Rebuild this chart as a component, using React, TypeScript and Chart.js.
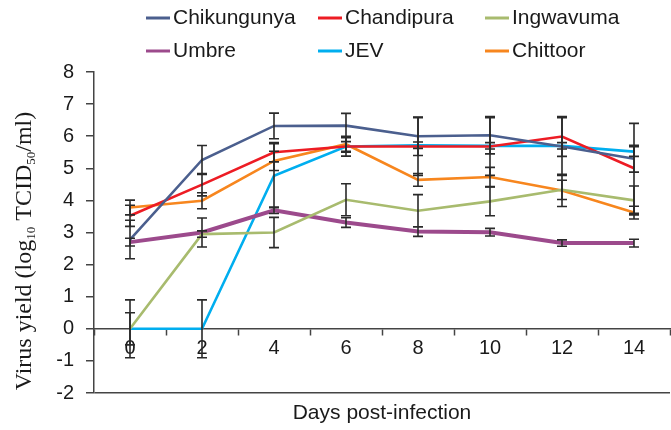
import React, { useEffect, useRef } from 'react';
import { Chart, registerables } from 'chart.js';
Chart.register(...registerables);

const days = ['0', '2', '4', '6', '8', '10', '12', '14'];
const seriesNames = ['Chikungunya', 'Chandipura', 'Ingwavuma', 'Umbre', 'JEV', 'Chittoor'];
const seriesColors = ['#4B5F8E', '#ED1C24', '#A8BB6E', '#9C4A8C', '#00AEEF', '#F7861E'];
const seriesWidths = [2.6, 2.6, 2.6, 4, 2.6, 2.6];

const chikungunya = [2.78, 5.26, 6.32, 6.33, 6.0, 6.03, 5.68, 5.3];
const chandipura = [3.52, 4.49, 5.5, 5.68, 5.68, 5.68, 5.99, 5.0];
const ingwavuma = [0, 2.95, 3.0, 4.02, 3.68, 3.97, 4.33, 4.0];
const umbre = [2.7, 3.0, 3.69, 3.31, 3.03, 3.01, 2.67, 2.67];
const jev = [0, 0, 4.77, 5.68, 5.72, 5.7, 5.7, 5.52];
const chittoor = [3.78, 3.99, 5.23, 5.75, 4.64, 4.73, 4.31, 3.62];

const chikungunyaErr = [0.6, 0.45, 0.4, 0.38, 0.6, 0.58, 0.9, 0.42];
const chandipuraErr = [0.33, 0.35, 0.3, 0.3, 0.9, 0.9, 0.62, 1.4];
const ingwavumaErr = [0.9, 0.1, 0.47, 0.5, 0.5, 0.45, 0.3, 0.45];
const umbreErr = [0.12, 0.45, 0.1, 0.15, 0.15, 0.12, 0.1, 0.12];
const jevErr = [0.5, 0.9, 1.0, 0.15, 0.1, 0.1, 0.1, 0.15];
const chittoorErr = [0.23, 0.25, 0.3, 0.25, 0.2, 0.3, 0.5, 0.2];

const yTickMin = -2;
const yTickMax = 8;

const seriesValues = [chikungunya, chandipura, ingwavuma, umbre, jev, chittoor];
const seriesErrors = [chikungunyaErr, chandipuraErr, ingwavumaErr, umbreErr, jevErr, chittoorErr];

const SANS = '"Liberation Sans", Arial, sans-serif';
const SERIF = '"Liberation Serif", "Times New Roman", serif';

const errorBarPlugin = {
  id: 'errorBars',
  afterDatasetsDraw(chart: any) {
    const ctx = chart.ctx;
    const xs = chart.scales.x;
    const ys = chart.scales.y;
    ctx.save();
    ctx.strokeStyle = '#2a2a2a';
    ctx.lineWidth = 1.6;
    seriesValues.forEach((vals, i) => {
      const errs = seriesErrors[i];
      vals.forEach((v, j) => {
        const e = errs[j];
        const x = xs.getPixelForValue(j);
        const yt = ys.getPixelForValue(v + e);
        const yb = ys.getPixelForValue(v - e);
        ctx.beginPath();
        ctx.moveTo(x, yt);
        ctx.lineTo(x, yb);
        ctx.moveTo(x - 5, yt);
        ctx.lineTo(x + 5, yt);
        ctx.moveTo(x - 5, yb);
        ctx.lineTo(x + 5, yb);
        ctx.stroke();
      });
    });
    ctx.restore();
  },
};

const decorPlugin = {
  id: 'decor',
  afterDraw(chart: any) {
    const ctx = chart.ctx;
    const area = chart.chartArea;
    ctx.save();
    // legend
    const cols = [146, 318, 485];
    const rows = [18, 51];
    ctx.font = '21px ' + SANS;
    ctx.textBaseline = 'middle';
    ctx.textAlign = 'left';
    seriesNames.forEach((name, i) => {
      const cx = cols[i % 3];
      const cy = rows[Math.floor(i / 3)];
      ctx.strokeStyle = seriesColors[i];
      ctx.lineWidth = 3;
      ctx.beginPath();
      ctx.moveTo(cx, cy);
      ctx.lineTo(cx + 24, cy);
      ctx.stroke();
      ctx.fillStyle = '#1a1a1a';
      ctx.fillText(name, cx + 27, cy);
    });
    // x title
    ctx.textAlign = 'center';
    ctx.font = '21px ' + SANS;
    ctx.fillText('Days post-infection', (area.left + area.right) / 2, area.bottom + 20);
    // y title with subscripts
    const parts: [string, boolean][] = [
      ['Virus yield (log', false],
      ['10', true],
      [' TCID', false],
      ['50', true],
      ['/ml)', false],
    ];
    const mainFont = '24px ' + SERIF;
    const subFont = '13px ' + SERIF;
    let total = 0;
    parts.forEach(([t, s]) => {
      ctx.font = s ? subFont : mainFont;
      total += ctx.measureText(t).width;
    });
    ctx.translate(25, 251);
    ctx.rotate(-Math.PI / 2);
    ctx.textAlign = 'left';
    ctx.textBaseline = 'middle';
    let px = -total / 2;
    parts.forEach(([t, s]) => {
      ctx.font = s ? subFont : mainFont;
      ctx.fillText(t, px, s ? 7 : 0);
      px += ctx.measureText(t).width;
    });
    ctx.restore();
  },
};

export default function App() {
  const ref = useRef<HTMLCanvasElement | null>(null);
  useEffect(() => {
    document.body.style.margin = '0';
    const canvas = ref.current;
    if (!canvas) return;
    const chart = new Chart(canvas, {
      type: 'line',
      data: {
        labels: days,
        datasets: seriesNames.map((name, i) => ({
          label: name,
          data: seriesValues[i],
          borderColor: seriesColors[i],
          backgroundColor: seriesColors[i],
          borderWidth: seriesWidths[i],
          pointRadius: 0,
          tension: 0,
          fill: false,
        })),
      },
      options: {
        responsive: false,
        animation: false,
        devicePixelRatio: 1,
        layout: { padding: { top: 72, bottom: 37, left: 0, right: 1 } },
        plugins: {
          legend: { display: false },
          tooltip: { enabled: false },
        },
        scales: {
          x: {
            type: 'category',
            offset: true,
            position: { y: 0 } as any,
            grid: {
              offset: true,
              drawOnChartArea: false,
              drawTicks: true,
              tickLength: 6,
              tickColor: '#444',
              tickWidth: 1.5,
            },
            border: { display: true, color: '#444', width: 1.5 },
            ticks: {
              color: '#1a1a1a',
              font: { family: SANS, size: 20 },
              padding: 2,
              maxRotation: 0,
            },
          },
          y: {
            min: yTickMin,
            max: yTickMax,
            afterFit(scale: any) {
              scale.width = 94;
            },
            grid: {
              drawOnChartArea: true,
              drawTicks: true,
              tickLength: 8,
              tickColor: '#444',
              tickWidth: 1.5,
              lineWidth: 1.5,
              color: (c: any) => (c.tick && c.tick.value === yTickMin ? '#444' : 'rgba(0,0,0,0)'),
            },
            border: { display: true, color: '#444', width: 1.5 },
            ticks: {
              stepSize: 1,
              color: '#1a1a1a',
              font: { family: SANS, size: 20 },
              padding: 12,
            },
          },
        },
      },
      plugins: [errorBarPlugin, decorPlugin],
    });
    return () => chart.destroy();
  }, []);
  return (
    <div style={{ width: 671, height: 430 }}>
      <canvas ref={ref} width={671} height={430} />
    </div>
  );
}
